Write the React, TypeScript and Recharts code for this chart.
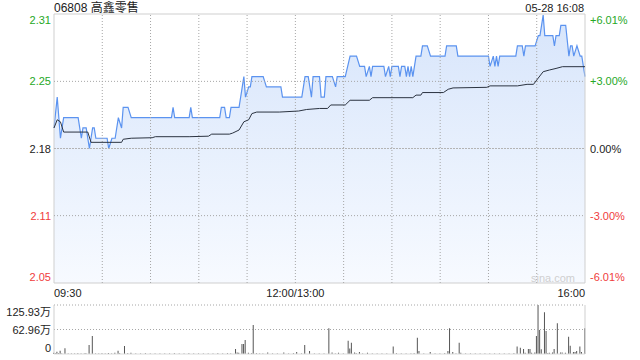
// 高鑫零售 分时图 (Recharts)

import { ComposedChart, Area, Line, Bar, XAxis, YAxis, ReferenceLine, ReferenceArea } from 'recharts';

const prevClose = 2.18;
const pctTicks = [-0.0601, -0.03, 0, 0.03, 0.0601];
const timeTicks = [0, 150, 330];
const timeLabels = ['09:30', '12:00/13:00', '16:00'];
const gridMinutes = [30, 60, 90, 120, 150, 180, 210, 240, 270, 300];

// 价格 (分钟序号, 成交价)
const priceTimes = [
  0, 2, 4, 6, 15, 17, 18, 20, 22, 24, 25, 26, 33, 34, 36, 38, 40, 42, 43, 46, 48, 73, 74, 75, 84, 85, 86,
  103, 104, 106, 107, 109, 110, 115, 118, 119, 121, 122, 123, 130, 132, 141, 142, 154, 156, 158, 160, 161,
  165, 166, 168, 169, 173, 175, 176, 181, 184, 188, 190, 193, 194, 196, 197, 198, 205, 206, 208, 209, 210,
  214, 215, 216, 218, 219, 220, 221, 222, 223, 225, 228, 229, 232, 234, 243, 244, 250, 251, 270, 271, 273,
  274, 275, 276, 277, 287, 288, 291, 292, 293, 299, 301, 302, 304, 305, 310, 311, 312, 314, 315, 318, 320,
  321, 322, 323, 325, 327, 328, 330,
];
const priceValues = [
  2.2, 2.23, 2.19, 2.21, 2.21, 2.19, 2.2, 2.2, 2.18, 2.2, 2.2, 2.19, 2.19, 2.18, 2.19, 2.19, 2.21, 2.2, 2.22, 2.22, 2.21, 2.21, 2.22, 2.21, 2.21, 2.22, 2.21,
  2.21, 2.22, 2.22, 2.21, 2.21, 2.22, 2.22, 2.25, 2.23, 2.24, 2.24, 2.25, 2.25, 2.24, 2.24, 2.23, 2.23, 2.25, 2.25, 2.23, 2.25,
  2.25, 2.23, 2.23, 2.25, 2.25, 2.24, 2.25, 2.25, 2.27, 2.27, 2.26, 2.26, 2.25, 2.26, 2.25, 2.26, 2.26, 2.25, 2.26, 2.25, 2.26,
  2.26, 2.25, 2.26, 2.26, 2.25, 2.26, 2.25, 2.26, 2.25, 2.27, 2.27, 2.28, 2.28, 2.27, 2.27, 2.28, 2.28, 2.27, 2.27, 2.26, 2.27,
  2.26, 2.27, 2.26, 2.27, 2.27, 2.28, 2.28, 2.27, 2.28, 2.28, 2.29, 2.29, 2.31, 2.29, 2.29, 2.28, 2.29, 2.29, 2.3, 2.3, 2.27,
  2.28, 2.28, 2.27, 2.28, 2.27, 2.27, 2.25,
];

// 均价
const avgTimes = [
  0, 2, 4, 6, 21, 23, 42, 43, 48, 61, 63, 84, 96, 98, 109, 111, 115, 118, 121, 123, 126, 140, 152, 157, 165,
  170, 172, 181, 184, 196, 198, 223, 225, 228, 229, 242, 245, 248, 269, 271, 288, 294, 298, 300, 304, 308, 312, 316, 330,
];
const avgValues = [
  2.2, 2.208, 2.206, 2.196, 2.196, 2.186, 2.186, 2.189, 2.19, 2.1905, 2.1915, 2.1915, 2.192, 2.194, 2.194, 2.195, 2.198, 2.206, 2.208, 2.214, 2.2155, 2.2155, 2.2165, 2.218, 2.219,
  2.219, 2.2224, 2.2224, 2.227, 2.227, 2.2295, 2.2295, 2.232, 2.232, 2.2345, 2.2345, 2.2377, 2.239, 2.2396, 2.241, 2.241, 2.2425, 2.2425, 2.2467, 2.2548, 2.2565, 2.258, 2.2597, 2.2597,
];

// 成交量 (万股)
const volTimes = [
  0, 1, 2, 3, 4, 5, 7, 9, 11, 13, 15, 17, 19, 20, 22, 24, 26, 28, 30, 32, 34, 36, 38, 40, 41, 44, 46, 48,
  51, 54, 57, 60, 63, 66, 69, 72, 75, 78, 81, 84, 87, 90, 93, 96, 99, 102, 105, 108, 110, 113, 114, 115,
  117, 118, 119, 121, 123, 124, 126, 128, 130, 133, 136, 139, 143, 146, 149, 151, 154, 156, 159, 162, 165,
  168, 171, 173, 175, 177, 180, 183, 184, 185, 187, 188, 190, 192, 195, 198, 201, 204, 207, 211, 213, 216,
  219, 222, 224, 226, 227, 230, 234, 237, 240, 243, 245, 246, 248, 250, 252, 253, 256, 259, 262, 265, 268,
  271, 274, 277, 280, 283, 286, 288, 290, 292, 293, 295, 296, 297, 299, 300, 301, 302, 303, 305, 306, 307,
  308, 310, 311, 313, 315, 316, 318, 320, 321, 323, 324, 325, 327, 328, 330,
];
const volValues = [
  3, 2, 6, 2, 8.6, 1.5, 14.6, 1, 1.5, 1, 2, 1, 1.5, 2, 23, 46, 1.5, 1, 2, 1, 2.5, 1.5, 3, 8.6, 2, 20.6, 2, 3,
  1.5, 1, 2, 1, 1.5, 1, 1.5, 1, 2, 1, 1.5, 2, 1, 1.5, 1, 1.5, 1, 2, 1, 2, 1.5, 12.9, 4, 3,
  25.7, 25.7, 36, 3, 2, 74.6, 2, 1.5, 1, 4, 1.5, 1, 4, 1.5, 2, 5, 1.5, 23, 8, 1.5, 1,
  1.5, 66, 4, 1.5, 3, 1.5, 34, 14, 29, 4, 2, 5, 1.5, 3, 1, 1.5, 1, 1.5, 19, 2, 1,
  1.5, 1, 2, 42, 8, 1.5, 5, 1.5, 1, 2, 8, 66, 5, 1.5, 29, 3, 1.5, 1, 1.5, 1, 1.5,
  1, 1.5, 1, 1.5, 1, 2, 19, 16, 13, 3, 13, 13, 3, 4, 46, 125.93, 62, 12, 107, 59, 2,
  3, 4, 13, 79, 4, 4, 3, 44.5, 21, 5, 5, 8, 19, 5, 66,
];
const volTicks = [0, 62.96, 125.93];

const FONT = '"Liberation Sans", Arial, "Noto Sans CJK SC", sans-serif';
const GREEN = '#26a826';
const RED = '#f03c3c';
const GRID = '#a6a6a6';

const priceTicks = pctTicks.map((p) => prevClose * (1 + p));
const priceDomain: [number, number] = [priceTicks[0], priceTicks[priceTicks.length - 1]];

const allTimes = Array.from(new Set([...priceTimes, ...avgTimes])).sort((a, b) => a - b);
const mainData = allTimes.map((t) => {
  const pi = priceTimes.indexOf(t);
  const ai = avgTimes.indexOf(t);
  return { t, price: pi >= 0 ? priceValues[pi] : null, avg: ai >= 0 ? avgValues[ai] : null };
});
const volData = volTimes.map((t, i) => ({ t, v: volValues[i] }));

function PriceTick(props: any) {
  const { x, y, payload, side } = props;
  const v = payload.value;
  const p = v / prevClose - 1;
  const shift = v >= priceDomain[1] - 1e-6 ? 6 : v <= priceDomain[0] + 1e-6 ? -6 : 0;
  const color = p > 1e-6 ? GREEN : p < -1e-6 ? RED : '#222';
  const label = side === 'left' ? v.toFixed(2) : (p > 1e-6 ? '+' : '') + (p * 100).toFixed(2) + '%';
  return (
    <text x={x} y={y + shift} dy={4} textAnchor={side === 'left' ? 'end' : 'start'} fill={color} fontSize={11} fontFamily={FONT}>
      {label}
    </text>
  );
}

function TimeTick(props: any) {
  const { x, y, payload, index } = props;
  const anchor = index === 0 ? 'start' : index === timeTicks.length - 1 ? 'end' : 'middle';
  return (
    <text x={x} y={y} dy={10} textAnchor={anchor} fill="#222" fontSize={11} fontFamily={FONT}>
      {timeLabels[timeTicks.indexOf(payload.value)]}
    </text>
  );
}

function VolTick(props: any) {
  const { x, y, payload } = props;
  const v = payload.value;
  const max = volTicks[volTicks.length - 1];
  const shift = v >= max - 1e-6 ? 7 : v <= 1e-6 ? -6 : 0;
  return (
    <text x={x} y={y + shift} dy={4} textAnchor="end" fill="#222" fontSize={11} fontFamily={FONT}>
      {v === 0 ? '0' : v.toFixed(2) + '万'}
    </text>
  );
}

export default function App() {
  return (
    <div style={{ position: 'fixed', left: 0, top: 0, width: 640, height: 360, background: '#fff', fontFamily: FONT }}>
      <div style={{ position: 'absolute', left: 54, top: 1, fontSize: 12, lineHeight: '14px', color: '#222' }}>06808 高鑫零售</div>
      <div style={{ position: 'absolute', right: 56, top: 2, fontSize: 11, lineHeight: '12px', color: '#222' }}>05-28 16:08</div>

      <div style={{ position: 'absolute', left: 0, top: 0 }}>
        <ComposedChart width={640} height={300} data={mainData} margin={{ top: 14, right: 0, bottom: 0, left: 0 }}>
          <defs>
            <linearGradient id="priceFill" x1="0" y1="0" x2="0" y2="1">
              <stop offset="0%" stopColor="#d7e5fb" />
              <stop offset="100%" stopColor="#f7faff" />
            </linearGradient>
          </defs>
          <XAxis
            dataKey="t"
            type="number"
            domain={[0, 330]}
            ticks={timeTicks}
            interval={0}
            height={17}
            tickSize={4}
            tickMargin={0}
            tickLine={false}
            axisLine={false}
            tick={(p: any) => <TimeTick {...p} />}
          />
          <YAxis
            yAxisId="left"
            orientation="left"
            type="number"
            width={54}
            domain={priceDomain}
            ticks={priceTicks}
            interval={0}
            allowDataOverflow
            tickSize={3}
            tickMargin={0}
            tickLine={false}
            axisLine={false}
            tick={(p: any) => <PriceTick {...p} side="left" />}
          />
          <YAxis
            yAxisId="right"
            orientation="right"
            type="number"
            width={55}
            domain={priceDomain}
            ticks={priceTicks}
            interval={0}
            allowDataOverflow
            tickSize={5}
            tickMargin={0}
            tickLine={false}
            axisLine={false}
            tick={(p: any) => <PriceTick {...p} side="right" />}
          />
          <Area
            yAxisId="left"
            type="linear"
            dataKey="price"
            stroke="#5b93f0"
            strokeWidth={1.2}
            fill="url(#priceFill)"
            fillOpacity={1}
            connectNulls
            dot={false}
            activeDot={false}
            isAnimationActive={false}
          />
          {gridMinutes.map((m) => (
            <ReferenceLine key={m} yAxisId="left" x={m} stroke={GRID} strokeDasharray="1 2" />
          ))}
          <ReferenceLine yAxisId="left" y={priceTicks[1]} stroke={GRID} strokeDasharray="1 2" />
          <ReferenceLine yAxisId="left" y={priceTicks[2]} stroke="#b4b4b4" strokeDasharray="2 1" />
          <ReferenceLine yAxisId="left" y={priceTicks[3]} stroke={GRID} strokeDasharray="1 2" />
          <ReferenceArea yAxisId="left" x1={0} x2={330} y1={priceDomain[0]} y2={priceDomain[1]} fill="none" stroke="#cfcfcf" />
          <Line
            yAxisId="left"
            type="linear"
            dataKey="avg"
            stroke="#2b3340"
            strokeWidth={1}
            connectNulls
            dot={false}
            activeDot={false}
            isAnimationActive={false}
          />
        </ComposedChart>
      </div>

      <div style={{ position: 'absolute', right: 65, top: 272, fontSize: 11, lineHeight: '13px', color: '#cfcfcf' }}>sina.com</div>

      <div style={{ position: 'absolute', left: 0, top: 300 }}>
        <ComposedChart width={640} height={60} data={volData} margin={{ top: 5, right: 55, bottom: 6, left: 0 }}>
          <XAxis dataKey="t" type="number" domain={[0, 330]} hide />
          <YAxis
            type="number"
            width={54}
            domain={[0, volTicks[volTicks.length - 1]]}
            ticks={volTicks}
            interval={0}
            tickSize={3}
            tickMargin={0}
            tickLine={false}
            axisLine={false}
            tick={(p: any) => <VolTick {...p} />}
          />
          <ReferenceLine y={volTicks[2]} stroke={GRID} strokeDasharray="1 2" />
          <ReferenceLine y={volTicks[1]} stroke={GRID} strokeDasharray="1 2" />
          <ReferenceLine y={0} stroke="#dcdcdc" />
          <ReferenceLine x={0} stroke="#cfcfcf" />
          <ReferenceLine x={330} stroke="#cfcfcf" />
          <Bar dataKey="v" fill="#555" barSize={1} isAnimationActive={false} />
        </ComposedChart>
      </div>
    </div>
  );
}
